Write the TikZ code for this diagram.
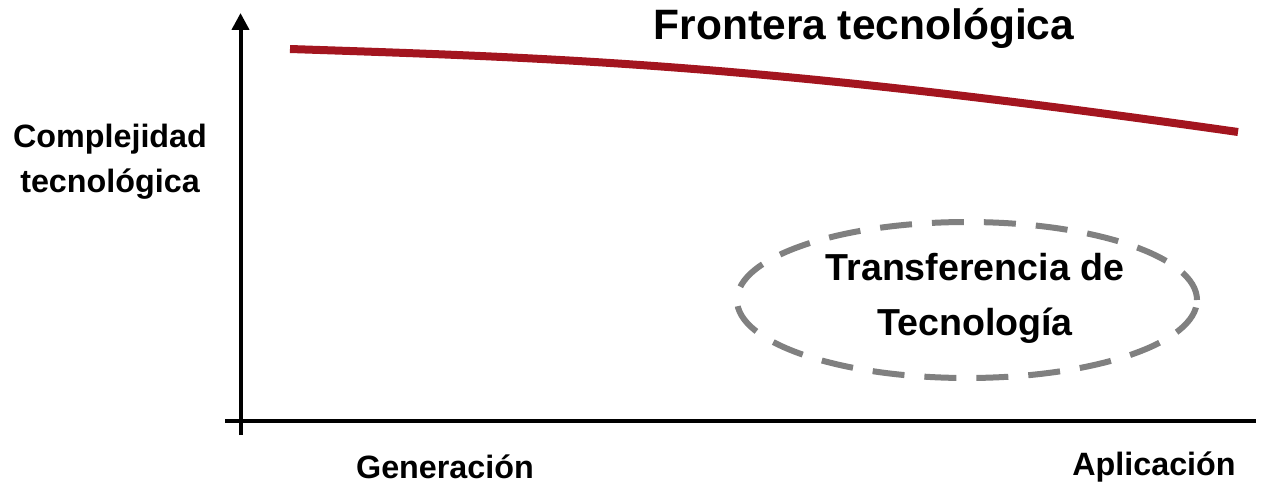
\documentclass[tikz,border=0pt]{standalone}
\usepackage{fontspec}
\setmainfont{Liberation Sans}
\usetikzlibrary{arrows.meta,shapes.geometric}
\definecolor{frontred}{HTML}{A3151F}
\definecolor{dashgray}{HTML}{808080}
\tikzset{
  axis/.style={line width=4pt, black},
  lbl/.style={font=\bfseries, inner sep=0pt, anchor=center},
  axlbl/.style={lbl, font=\bfseries\fontsize{32.3}{45}\selectfont},
}
\begin{document}
\begin{tikzpicture}[x=1pt,y=-1pt]
\useasboundingbox (0,0) rectangle (1266,484);
% axes
\coordinate (yb) at (240.5,435);
\coordinate (yt) at (240.5,13);
\coordinate (xl) at (225,421);
\coordinate (xr) at (1256,421);
\draw[axis, -{Triangle[length=17pt,width=17pt]}] (yb) -- (yt);
\draw[axis] (xl) -- (xr);
% frontier curve
\coordinate (f0) at (290,49);
\coordinate (f1) at (1238,132);
\draw[frontred, line width=8pt] (f0) .. controls (560,58) and (760,64) .. (f1);
% ellipse
\node[draw=dashgray, line width=6pt, dash pattern=on 32pt off 20pt, ellipse, minimum width=460pt, minimum height=156pt, inner sep=0pt] (tt) at (967,300) {};
\node[lbl, font=\bfseries\fontsize{37.6}{55}\selectfont, align=center] (ttl) at (975,298) {Transferencia de\\Tecnología};
% labels
\node[lbl, font=\bfseries\fontsize{42.5}{48}\selectfont] (title) at (864,28) {Frontera tecnológica};
\node[axlbl, align=center] (ylab) at (110,162) {Complejidad\\tecnológica};
\node[axlbl] (gen) at (445,467) {Generación};
\node[axlbl] (apl) at (1154,467) {Aplicación};
\end{tikzpicture}
\end{document}
